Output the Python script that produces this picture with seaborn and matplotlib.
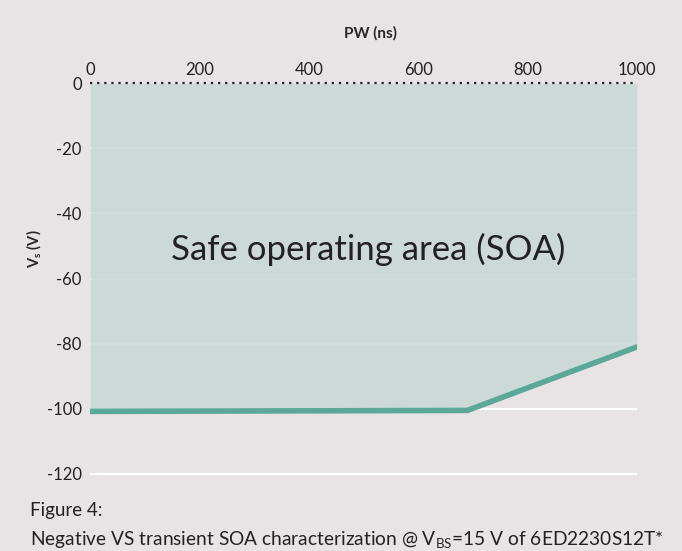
import pandas as pd
import matplotlib.pyplot as plt
import seaborn as sns

# SOA boundary points
pw_ns = [0, 690, 1000]
vs_volts = [-100.8, -100.5, -81]
x_ticks = [0, 200, 400, 600, 800, 1000]
y_ticks = [0, -20, -40, -60, -80, -100, -120]

bg = "#e8e4e5"
line_color = "#5ba896"
fill_color = "#c9d8d5"

sns.set_style("white")
plt.rcParams['font.family'] = ['Lato', 'DejaVu Sans']
plt.rcParams['font.size'] = 11
plt.rcParams['axes.unicode_minus'] = False

df = pd.DataFrame({"PW": pw_ns, "VS": vs_volts})

fig = plt.figure(figsize=(6.82, 5.51), dpi=100, facecolor=bg)
ax = fig.add_axes([0.132, 0.134, 0.802, 0.715], facecolor=bg)

# grid lines (white), drawn under the fill
for y in y_ticks[1:]:
    ax.axhline(y, color="white", lw=1.5, zorder=0)

ax.fill_between(df["PW"], df["VS"], 0, color=fill_color, alpha=0.85, lw=0, zorder=1)
sns.lineplot(data=df, x="PW", y="VS", color=line_color, lw=4, ax=ax, zorder=3)
ax.axhline(0, color="#222222", lw=1.6, ls=(0, (1, 2.2)), zorder=4, clip_on=False)

ax.set_xlim(0, 1000)
ax.set_ylim(-121, 0)
ax.xaxis.tick_top()
ax.xaxis.set_label_position("top")
ax.set_xticks(x_ticks)
ax.set_yticks(y_ticks)
ax.tick_params(length=0, labelsize=12, colors="#222222", pad=4)
ax.tick_params(axis="y", pad=6)
ax.set_xlabel("PW (ns)", fontsize=11, fontweight="bold")
ax.xaxis.set_label_coords(0.512, 1.115)
ax.set_ylabel(r"V$_\mathregular{s}$ (V)", fontsize=10.5, fontweight="bold")
ax.yaxis.set_label_coords(-0.085, 0.58)
for s in ax.spines.values():
    s.set_visible(False)

ax.text(508, -51, "Safe operating area (SOA)", fontsize=25, color="#222222",
        ha="center", va="center", zorder=5)

fig.text(0.044, 0.074, "Figure 4:", fontsize=13.5, color="#222222", va="center")
fig.text(0.044, 0.02,
         r"Negative VS transient SOA characterization @ V$_\mathregular{BS}$=15 V of 6ED2230S12T*",
         fontsize=13.8, color="#222222", va="center")

plt.savefig("out.png", dpi=100, facecolor=bg)
